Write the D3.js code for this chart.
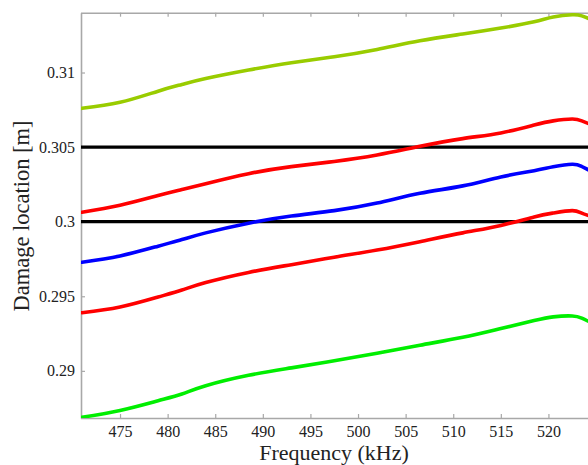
<!DOCTYPE html>
<html><head><meta charset="utf-8">
<script src="https://cdn.jsdelivr.net/npm/d3@7"></script>
<style>body{margin:0;background:#fff}svg{display:block}</style>
</head><body>
<script>
const freq = [471,475,479,481.5,484,488.5,493,497.5,502,506.5,511,515,518.5,520.5,522.5,523.5,524.5];
const limeSeries = [0.30760,0.30800,0.30875,0.30920,0.30960,0.31017,0.31066,0.31106,0.31155,0.31213,0.31258,0.31298,0.31340,0.31372,0.31387,0.31380,0.31355];
const redUpper = [0.30063,0.30110,0.30175,0.30215,0.30255,0.30322,0.30369,0.30404,0.30447,0.30505,0.30557,0.30595,0.30648,0.30676,0.30688,0.30676,0.30650];
const blueSeries = [0.29728,0.29770,0.29836,0.29880,0.29925,0.29990,0.30038,0.30074,0.30125,0.30190,0.30240,0.30300,0.30342,0.30368,0.30385,0.30370,0.30338];
const redLower = [0.29390,0.29428,0.29495,0.29542,0.29592,0.29660,0.29712,0.29762,0.29810,0.29866,0.29925,0.29975,0.30032,0.30058,0.30074,0.30057,0.30035];
const greenSeries = [0.28689,0.28735,0.28800,0.28845,0.28900,0.28970,0.29020,0.29068,0.29118,0.29172,0.29225,0.29284,0.29337,0.29362,0.29368,0.29353,0.29323];
const thresholds = [0.305, 0.3];
const xTicks = [475,480,485,490,495,500,505,510,515,520];
const yTicks = [0.29,0.295,0.3,0.305,0.31];
const yTickLabels = ["0.29","0.295","0.3","0.305","0.31"];
const xLabel = "Frequency (kHz)";
const yLabel = "Damage location [m]";

(function(){
const W = 588, H = 465;
const mLeft = 81, mTop = 12.7, mBottom = 418;
const pxPerKHz = 9.52;
const xMin = 470.9, xMax = 525.5;
const x = d3.scaleLinear().domain([xMin, xMax]).range([mLeft, mLeft + (xMax - xMin) * pxPerKHz]);
const y = d3.scaleLinear().domain([0.28684, 0.31401]).range([mBottom, mTop]);

const svg = d3.select("body").append("svg").attr("width", W).attr("height", H);
svg.append("clipPath").attr("id","clip").append("rect")
  .attr("x", mLeft).attr("y", mTop).attr("width", W - mLeft).attr("height", mBottom - mTop);

const axisColor = "#a8a8a8";
const font = "Liberation Serif, Times New Roman, serif";

const xAxisB = d3.axisBottom(x).tickValues(xTicks).tickSizeInner(-4).tickSizeOuter(0).tickPadding(8).tickFormat(d3.format("d"));
const gx = svg.append("g").attr("transform", `translate(0,${mBottom})`).call(xAxisB);
const xAxisT = d3.axisTop(x).tickValues(xTicks).tickSizeInner(-4).tickSizeOuter(0).tickFormat("");
const gxt = svg.append("g").attr("transform", `translate(0,${mTop})`).call(xAxisT);
const yAxis = d3.axisLeft(y).tickValues(yTicks).tickSizeInner(-4).tickSizeOuter(0).tickPadding(6)
  .tickFormat((d,i) => yTickLabels[i]);
const gy = svg.append("g").attr("transform", `translate(${mLeft},0)`).call(yAxis);
[gx, gxt, gy].forEach(g => {
  g.attr("font-family", font).attr("font-size", 16);
  g.select(".domain").attr("stroke", axisColor).attr("stroke-width", 1.6);
  g.selectAll(".tick line").attr("stroke", axisColor).attr("stroke-width", 1.2);
  g.selectAll(".tick text").attr("fill", "#222").attr("font-family", font).attr("font-size", 16);
});
gx.select(".domain").attr("d", `M${mLeft},0.5H${W}`);
gxt.select(".domain").attr("d", `M${mLeft},0.5H${W}`);

const plot = svg.append("g").attr("clip-path", "url(#clip)");
plot.selectAll("line.th").data(thresholds).enter().append("line")
  .attr("x1", mLeft).attr("x2", W).attr("y1", d => y(d)).attr("y2", d => y(d))
  .attr("stroke", "#000").attr("stroke-width", 3.2);

const series = [
  {vals: limeSeries, color: "#99cc00"},
  {vals: redUpper, color: "#ff0000"},
  {vals: blueSeries, color: "#0000ff"},
  {vals: redLower, color: "#ff0000"},
  {vals: greenSeries, color: "#00ee00"}
];
const line = d3.line().x((d,i) => x(freq[i])).y(d => y(d)).curve(d3.curveNatural);
plot.selectAll("path.s").data(series).enter().append("path")
  .attr("d", d => line(d.vals)).attr("fill", "none")
  .attr("stroke", d => d.color).attr("stroke-width", 3.6).attr("stroke-linecap", "round");

svg.append("text").attr("x", 334).attr("y", 460).attr("text-anchor", "middle")
  .attr("font-family", font).attr("font-size", 22).attr("fill", "#222").text(xLabel);
svg.append("text").attr("transform", `translate(29,216) rotate(-90)`).attr("text-anchor", "middle")
  .attr("font-family", font).attr("font-size", 22.5).attr("fill", "#222").text(yLabel);
})();
</script>
</body></html>
